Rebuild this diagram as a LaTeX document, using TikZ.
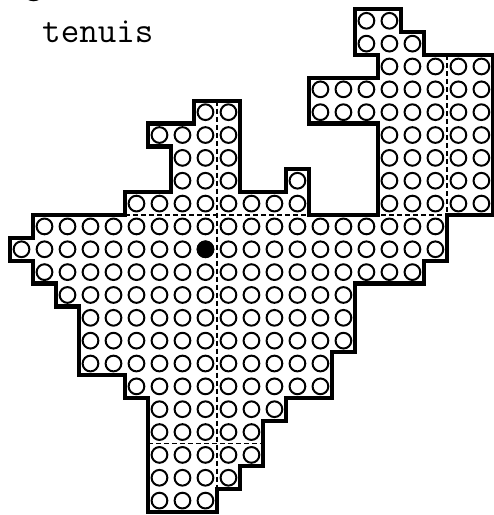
\documentclass[tikz,border=0pt]{standalone}
\usepackage{fontspec}
\usepackage{tikz}

\begin{document}
\begin{tikzpicture}[x=17.25pt, y=-17.14pt,
		cell/.style={line width=1.5pt},
		rim/.style={line width=3.2pt, line join=miter},
		split/.style={line width=1.4pt, dash pattern=on 3.75pt off 2.25pt},
		caption/.style={anchor=base west, inner sep=0pt, font=\fontsize{27}{32}\selectfont\ttfamily}]
			\useasboundingbox (-0.435,-0.41) rectangle (21.04,22.13);

			\node[caption] (frag) at (0.61,-0.68) {g};
			\node[caption] (name) at (1.39,1.47) {tenuis};

			% rows of holes: row/first/last column
			\foreach \r/\a/\b in {
				0/15/16, 1/15/17, 2/16/20, 3/13/20,
				4/8/9, 4/13/20, 5/6/9, 5/16/20, 6/7/9, 6/16/20,
				7/7/9, 7/12/12, 7/16/20, 8/5/12, 8/16/20,
				9/1/18, 10/0/18, 11/1/17, 12/2/14, 13/3/14, 14/3/14,
				15/3/13, 16/5/13, 17/6/11, 18/6/10, 19/6/10, 20/6/9, 21/6/8
			}{
				\foreach \c in {\a,...,\b}
					\draw[cell] (\c+0.5,\r+0.5) circle (5.9pt);
			}
			\fill (8.5,10.5) circle (6.6pt);

			% dividing lines
			\draw[split] (9,4) -- (9,22);
			\draw[split] (19,2) -- (19,9);
			\draw[split] (5,9) -- (19,9);
			\draw[split] (6,19) -- (11,19);

			% outline
			\draw[rim] (15,0) -- (17,0) -- (17,1) -- (18,1) -- (18,2) -- (21,2) -- (21,9)
				-- (19,9) -- (19,11) -- (18,11) -- (18,12) -- (15,12) -- (15,15) -- (14,15)
				-- (14,17) -- (12,17) -- (12,18) -- (11,18) -- (11,20) -- (10,20) -- (10,21)
				-- (9,21) -- (9,22) -- (6,22) -- (6,17) -- (5,17) -- (5,16) -- (3,16) -- (3,13)
				-- (2,13) -- (2,12) -- (1,12) -- (1,11) -- (0,11) -- (0,10) -- (1,10) -- (1,9)
				-- (5,9) -- (5,8) -- (7,8) -- (7,6) -- (6,6) -- (6,5) -- (8,5) -- (8,4)
				-- (10,4) -- (10,8) -- (12,8) -- (12,7) -- (13,7) -- (13,9) -- (16,9) -- (16,5)
				-- (13,5) -- (13,3) -- (16,3) -- (16,2) -- (15,2) -- cycle;
		\end{tikzpicture}
\end{document}
